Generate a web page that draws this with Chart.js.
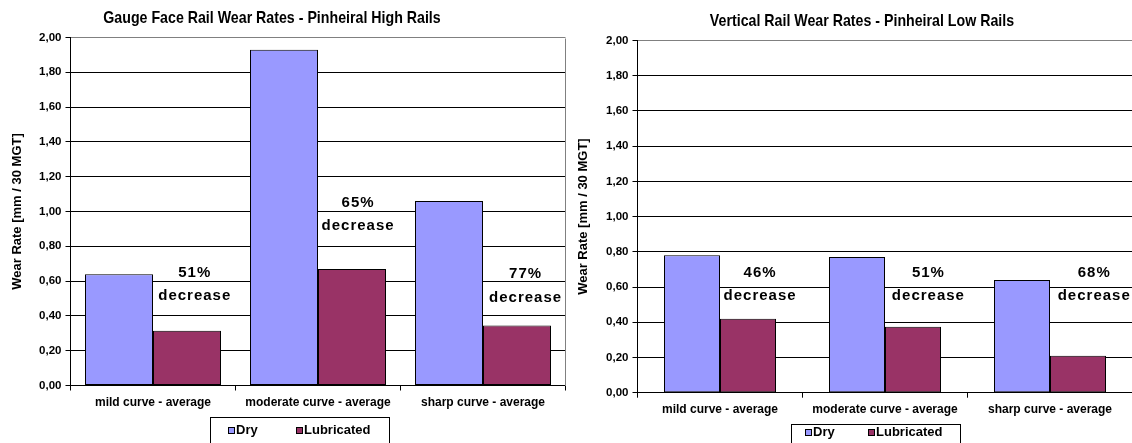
<!DOCTYPE html>
<html>
<head>
<meta charset="utf-8">
<title>Pinheiral Rail Wear Rates</title>
<script src="https://cdn.jsdelivr.net/npm/chart.js@4.4.1/dist/chart.umd.min.js"></script>
<style>
  html, body { margin: 0; padding: 0; background: #fff; overflow: hidden; width: 1132px; height: 443px; }
  .panel { position: absolute; top: 0; height: 443px; }
  #p1 { left: 0; width: 566px; }
  #p2 { left: 566px; width: 570px; }
</style>
</head>
<body>
<div class="panel" id="p1"><canvas id="c1" width="566" height="443"></canvas></div>
<div class="panel" id="p2"><canvas id="c2" width="570" height="443"></canvas></div>
<script>
// ---- data ----
const categories = ['mild curve - average', 'moderate curve - average', 'sharp curve - average'];
const seriesNames = ['Dry', 'Lubricated'];

// gauge face wear, high rails [mm / 30 MGT]
const highDry = [0.64, 1.93, 1.06];
const highLubricated = [0.315, 0.67, 0.345];
const highDecrease = ['51%', '65%', '77%'];

// vertical wear, low rails [mm / 30 MGT]
const lowDry = [0.78, 0.77, 0.64];
const lowLubricated = [0.42, 0.375, 0.21];
const lowDecrease = ['46%', '51%', '68%'];

const yTickLabels = ['0,00', '0,20', '0,40', '0,60', '0,80', '1,00', '1,20', '1,40', '1,60', '1,80', '2,00'];

const titles = [
  'Gauge Face Rail Wear Rates - Pinheiral High Rails',
  'Vertical Rail Wear Rates - Pinheiral Low Rails'
];
const yAxisTitle = 'Wear Rate [mm / 30 MGT]';

// ---- styling ----
const DRY_COLOR = '#9999FF';
const LUB_COLOR = '#993366';
const SANS = '"Liberation Sans", Arial, sans-serif';

// chart title, drawn condensed around a fixed centre
const titlePlugin = {
  id: 'panelTitle',
  afterDraw(chart, args, opts) {
    const ctx = chart.ctx;
    ctx.save();
    ctx.fillStyle = '#000';
    ctx.font = 'bold 17px ' + SANS;
    ctx.textAlign = 'center';
    ctx.textBaseline = 'middle';
    ctx.translate(opts.cx, opts.cy);
    ctx.scale(0.835, 1);
    ctx.fillText(opts.text, 0, 0);
    ctx.restore();
  }
};

// grey frame on the right of the plot area
const framePlugin = {
  id: 'plotFrame',
  beforeDatasetsDraw(chart) {
    const { ctx, chartArea: a } = chart;
    ctx.save();
    ctx.strokeStyle = '#808080';
    ctx.lineWidth = 1;
    ctx.beginPath();
    const xr = Math.round(a.right) - 0.5;
    ctx.moveTo(xr, Math.round(a.top) + 0.5);
    ctx.lineTo(xr, Math.round(a.bottom));
    ctx.stroke();
    ctx.restore();
  }
};

// "NN% / decrease" notes beside each category
const notesPlugin = {
  id: 'decreaseNotes',
  afterDatasetsDraw(chart, args, opts) {
    const { ctx, scales: { x, y } } = chart;
    const band = x.width / chart.data.labels.length;
    ctx.save();
    ctx.fillStyle = '#000';
    ctx.textAlign = 'center';
    ctx.textBaseline = 'middle';
    ctx.font = 'bold 15px ' + SANS;
    if ('letterSpacing' in ctx) ctx.letterSpacing = '1px';
    opts.texts.forEach((t, i) => {
      const cx = x.getPixelForValue(i) + opts.dx[i] * band + 0.5;
      const cy = y.getPixelForValue(opts.at[i]);
      ctx.fillText(t, cx, cy);
      ctx.fillText('decrease', cx, cy + opts.gap);
    });
    ctx.restore();
  }
};

// boxed legend under the plot
const legendPlugin = {
  id: 'boxLegend',
  afterDraw(chart, args, opts) {
    const ctx = chart.ctx;
    ctx.save();
    ctx.fillStyle = '#fff';
    ctx.fillRect(opts.box.x, opts.box.y, opts.box.w, opts.box.h);
    ctx.strokeStyle = '#000';
    ctx.lineWidth = 1;
    ctx.strokeRect(opts.box.x + 0.5, opts.box.y + 0.5, opts.box.w, opts.box.h);
    ctx.font = 'bold 13px ' + SANS;
    ctx.textBaseline = 'middle';
    ctx.textAlign = 'left';
    chart.data.datasets.forEach((ds, i) => {
      const mx = opts.markerX[i];
      const s = 7;
      const my = Math.round(opts.cy - s / 2);
      ctx.fillStyle = ds.backgroundColor;
      ctx.fillRect(mx, my, s, s);
      ctx.strokeStyle = '#000';
      ctx.strokeRect(mx + 0.5, my + 0.5, s - 1, s - 1);
      ctx.fillStyle = '#000';
      ctx.fillText(ds.label, mx + s + 1, opts.cy);
    });
    ctx.restore();
  }
};

function makeChart(canvasId, cfg) {
  return new Chart(document.getElementById(canvasId), {
    type: 'bar',
    data: {
      labels: categories,
      datasets: [
        { label: seriesNames[0], data: cfg.dry, backgroundColor: DRY_COLOR },
        { label: seriesNames[1], data: cfg.lub, backgroundColor: LUB_COLOR }
      ]
    },
    options: {
      responsive: false,
      maintainAspectRatio: false,
      devicePixelRatio: 1,
      animation: false,
      layout: { padding: cfg.padding },
      datasets: {
        bar: {
          categoryPercentage: cfg.groupWidth,
          barPercentage: 1.0,
          borderColor: '#000',
          borderWidth: 1,
          borderSkipped: false
        }
      },
      scales: {
        x: {
          offset: true,
          grid: {
            display: true,
            offset: true,
            drawOnChartArea: false,
            drawTicks: true,
            tickLength: 5,
            color: '#000'
          },
          border: { display: true, color: '#000', width: 1 },
          ticks: {
            color: '#000',
            font: { family: SANS, size: 12, weight: 'bold' },
            padding: 5,
            maxRotation: 0,
            autoSkip: false
          },
          afterFit(scale) { scale.height = 30; }
        },
        y: {
          min: 0,
          max: 2,
          grid: {
            color: (c) => (c.tick && c.tick.value > 1.999 ? '#808080' : '#000'),
            tickColor: '#000',
            tickLength: 5,
            lineWidth: 1
          },
          border: { display: true, color: '#000', width: 1 },
          ticks: {
            stepSize: 0.2,
            color: '#000',
            padding: 4,
            font: { family: SANS, size: 11.5, weight: 'bold' },
            callback: (v, i) => yTickLabels[i]
          },
          title: {
            display: true,
            text: yAxisTitle,
            color: '#000',
            font: { family: SANS, size: 13, weight: 'bold' },
            padding: { top: 10, bottom: 0 }
          },
          afterFit(scale) { scale.width = cfg.yWidth; }
        }
      },
      plugins: {
        legend: { display: false },
        tooltip: { enabled: false },
        title: { display: false },
        panelTitle: cfg.title,
        decreaseNotes: cfg.notes,
        boxLegend: cfg.legend
      }
    },
    plugins: [framePlugin, notesPlugin, titlePlugin, legendPlugin]
  });
}

makeChart('c1', {
  dry: highDry,
  lub: highLubricated,
  padding: { left: 0, right: 0.5, top: 37.5, bottom: 27.5 },
  yWidth: 70.5,
  groupWidth: 136 / 165,
  title: { text: titles[0], cx: 272, cy: 18.5 },
  notes: { texts: highDecrease, at: [0.65, 1.05, 0.64], dx: [0.25, 0.24, 0.255], gap: 23.5 },
  legend: { box: { x: 210, y: 417, w: 179, h: 40 }, markerX: [228, 296], cy: 430 }
});

makeChart('c2', {
  dry: lowDry,
  lub: lowLubricated,
  padding: { left: 0, right: 3.5, top: 40.5, bottom: 20.3 },
  yWidth: 71.5,
  groupWidth: 112 / 165,
  title: { text: titles[1], cx: 296, cy: 21 },
  notes: { texts: lowDecrease, at: [0.68, 0.68, 0.68], dx: [0.24, 0.26, 0.265], gap: 23.3 },
  legend: { box: { x: 225, y: 424, w: 169, h: 40 }, markerX: [239, 302], cy: 432.7 }
});
</script>
</body>
</html>
